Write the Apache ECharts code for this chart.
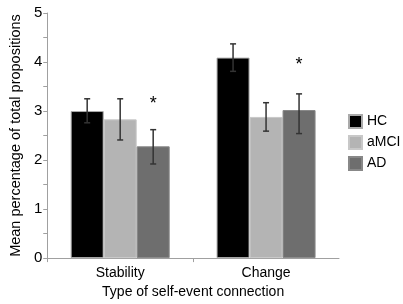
<!DOCTYPE html>
<html>
<head>
<meta charset="utf-8">
<script src="https://cdn.jsdelivr.net/npm/echarts@6/dist/echarts.min.js"></script>
<style>
  html, body { margin: 0; padding: 0; background: #fff; }
  #chart { width: 403px; height: 304px; }
</style>
</head>
<body>
<div id="chart"></div>
<script>
// categories and groups
const categories = ["Stability", "Change"];
const groups = ["HC", "aMCI", "AD"];

// means
const hcMeans = [3.0, 4.09];
const amciMeans = [2.83, 2.88];
const adMeans = [2.28, 3.02];

// error bar ends [low, high]
const hcErr = [[2.76, 3.25], [3.81, 4.37]];
const amciErr = [[2.41, 3.25], [2.59, 3.17]];
const adErr = [[1.92, 2.62], [2.54, 3.35]];

// asterisks above AD bars
const starValues = [3.14, 3.94];

const yTicks = [0, 1, 2, 3, 4, 5];

const colors = ["#000000", "#b4b4b4", "#6e6e6e"];
const barW = 33;

function errSeries(errs, offset) {
  return {
    type: "custom",
    silent: true,
    z: 5,
    data: errs.map((e, i) => [i, e[0], e[1]]),
    renderItem: function (params, api) {
      const lo = api.coord([api.value(0), api.value(1)]);
      const hi = api.coord([api.value(0), api.value(2)]);
      const x = lo[0] + offset;
      const cap = 3;
      const style = { stroke: "#333", lineWidth: 1.5 };
      return {
        type: "group",
        children: [
          { type: "line", shape: { x1: x, y1: lo[1], x2: x, y2: hi[1] }, style: style },
          { type: "line", shape: { x1: x - cap, y1: lo[1], x2: x + cap, y2: lo[1] }, style: style },
          { type: "line", shape: { x1: x - cap, y1: hi[1], x2: x + cap, y2: hi[1] }, style: style }
        ]
      };
    }
  };
}

const chart = echarts.init(document.getElementById("chart"));
chart.setOption({
  animation: false,
  textStyle: { fontFamily: "Liberation Sans, Arial, sans-serif", color: "#000" },
  grid: { left: 39, right: 64, top: 13, bottom: 43 },
  legend: {
    data: groups,
    orient: "vertical",
    left: 343,
    top: 109,
    itemWidth: 13,
    itemHeight: 13,
    itemGap: 6,
    icon: "rect",
    textStyle: { fontSize: 14, color: "#000", fontFamily: "Liberation Sans, Arial, sans-serif" }
  },
  xAxis: {
    type: "category",
    data: categories,
    axisLine: { lineStyle: { color: "#a0a0a0", width: 1 } },
    axisTick: { show: true, length: 4, lineStyle: { color: "#a0a0a0" } },
    axisLabel: { fontSize: 14, color: "#000", margin: 8 },
    name: "Type of self-event connection",
    nameLocation: "middle",
    nameGap: 25,
    nameTextStyle: { fontSize: 14, color: "#000" }
  },
  yAxis: {
    type: "value",
    min: yTicks[0],
    max: yTicks[yTicks.length - 1],
    interval: 1,
    axisLine: { show: true, lineStyle: { color: "#a0a0a0", width: 1 } },
    axisTick: { show: true, length: 4, lineStyle: { color: "#a0a0a0" } },
    minorTick: { show: true, splitNumber: 2, length: 4, lineStyle: { color: "#a0a0a0" } },
    splitLine: { show: false },
    axisLabel: { fontSize: 15, color: "#000", margin: 5 },
    name: "Mean percentage of total propositions",
    nameLocation: "middle",
    nameGap: 21,
    nameTextStyle: { fontSize: 14.5, color: "#000" }
  },
  series: [
    { name: "HC", type: "bar", data: hcMeans, barWidth: barW, barGap: "0%",
      itemStyle: { color: colors[0], borderColor: "#aaa", borderWidth: 1 } },
    { name: "aMCI", type: "bar", data: amciMeans, barWidth: barW, barGap: "0%",
      itemStyle: { color: colors[1], borderColor: "#c8c8c8", borderWidth: 1 } },
    { name: "AD", type: "bar", data: adMeans, barWidth: barW, barGap: "0%",
      itemStyle: { color: colors[2], borderColor: "#888", borderWidth: 1 } },
    errSeries(hcErr, -barW),
    errSeries(amciErr, 0),
    errSeries(adErr, barW),
    {
      type: "custom",
      silent: true,
      z: 6,
      data: starValues.map((v, i) => [i, v]),
      renderItem: function (params, api) {
        const p = api.coord([api.value(0), api.value(1)]);
        return {
          type: "text",
          style: {
            text: "*",
            x: p[0] + barW,
            y: p[1],
            fontSize: 18,
            fontFamily: "Liberation Sans, Arial, sans-serif",
            fill: "#000",
            align: "center",
            verticalAlign: "middle"
          }
        };
      }
    }
  ]
});
</script>
</body>
</html>
